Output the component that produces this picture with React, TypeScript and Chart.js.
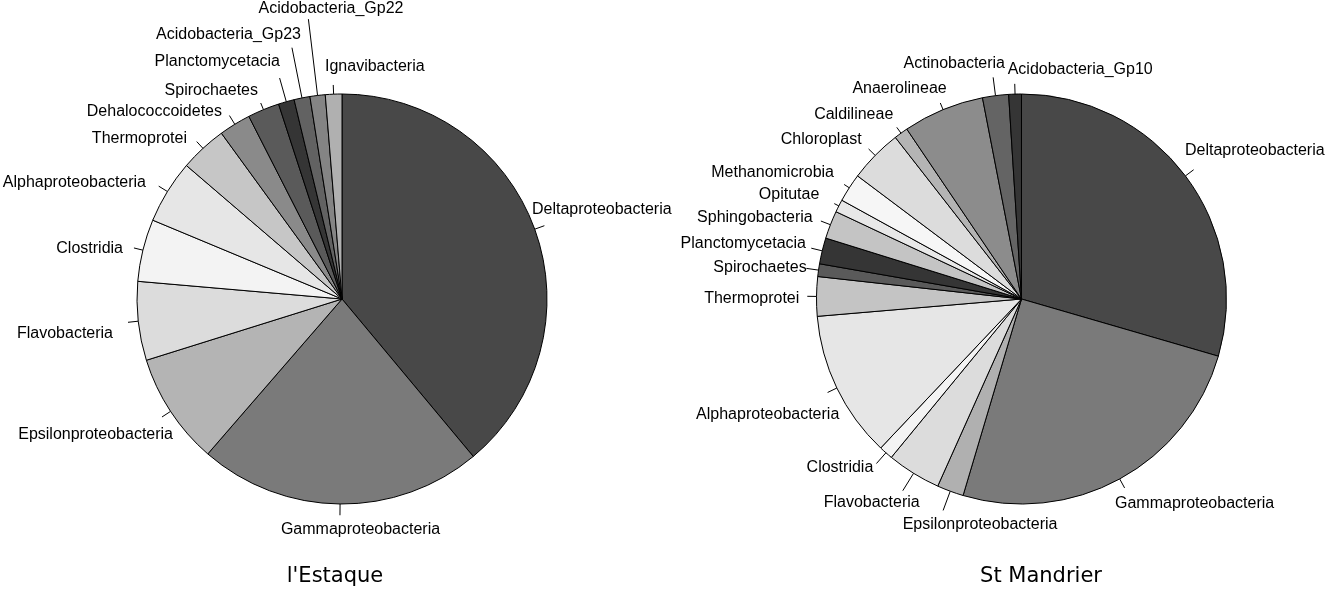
import React, { useEffect, useRef } from "react";
import { Chart, registerables } from "chart.js";

Chart.register(...registerables);

// ---------- Data: l'Estaque ----------
const estaqueTitle = "l'Estaque";
const estaqueCategories = [
  "Deltaproteobacteria",
  "Gammaproteobacteria",
  "Epsilonproteobacteria",
  "Flavobacteria",
  "Clostridia",
  "Alphaproteobacteria",
  "Thermoprotei",
  "Dehalococcoidetes",
  "Spirochaetes",
  "Planctomycetacia",
  "Acidobacteria_Gp23",
  "Acidobacteria_Gp22",
  "Ignavibacteria",
];
const estaqueValues = [38.9, 22.4, 8.8, 6.2, 4.9, 5.0, 3.7, 2.5, 2.5, 1.25, 1.25, 1.2, 1.3];

// ---------- Data: St Mandrier ----------
const mandrierTitle = "St Mandrier";
const mandrierCategories = [
  "Deltaproteobacteria",
  "Gammaproteobacteria",
  "Epsilonproteobacteria",
  "Flavobacteria",
  "Clostridia",
  "Alphaproteobacteria",
  "Thermoprotei",
  "Spirochaetes",
  "Planctomycetacia",
  "Sphingobacteria",
  "Opitutae",
  "Methanomicrobia",
  "Chloroplast",
  "Caldilineae",
  "Anaerolineae",
  "Actinobacteria",
  "Acidobacteria_Gp10",
];
const mandrierValues = [29.5, 25.1, 2.1, 4.25, 1.1, 11.6, 3.1, 1.0, 2.05, 2.2, 1.0, 2.25, 4.2, 1.1, 6.4, 2.05, 1.0];

// ---------- Styles ----------
const estaqueColors = [
  "#484848", "#7a7a7a", "#b4b4b4", "#dcdcdc", "#f3f3f3", "#e6e6e6", "#c6c6c6",
  "#8a8a8a", "#5a5a5a", "#353535", "#626262", "#848484", "#b0b0b0",
];
const mandrierColors = [
  "#484848", "#7a7a7a", "#b0b0b0", "#dcdcdc", "#f3f3f3", "#e6e6e6", "#c4c4c4",
  "#5a5a5a", "#353535", "#c4c4c4", "#e8e8e8", "#f6f6f6", "#dcdcdc", "#b4b4b4",
  "#8c8c8c", "#646464", "#353535",
];

// label layout: [dx, dy] of text anchor from pie centre, alignment, leader length factor
type LabelLayout = { dx: number; dy: number; align: CanvasTextAlign; ext: number };
const estaqueLabelLayout: LabelLayout[] = [
  { dx: 190, dy: -89.5, align: "left", ext: 1.05 },
  { dx: 18.5, dy: 230.5, align: "center", ext: 1.055 },
  { dx: -169, dy: 135.5, align: "right", ext: 1.05 },
  { dx: -229, dy: 34.5, align: "right", ext: 1.05 },
  { dx: -219, dy: -50.5, align: "right", ext: 1.045 },
  { dx: -196, dy: -116.5, align: "right", ext: 1.05 },
  { dx: -155, dy: -160.5, align: "right", ext: 1.045 },
  { dx: -120, dy: -187.8, align: "right", ext: 1.05 },
  { dx: -84, dy: -208.8, align: "right", ext: 1.035 },
  { dx: -62, dy: -237.8, align: "right", ext: 1.12 },
  { dx: -41, dy: -264.5, align: "right", ext: 1.25 },
  { dx: -11, dy: -290.2, align: "center", ext: 1.375 },
  { dx: -17, dy: -232.8, align: "left", ext: 1.045 },
];
const mandrierLabelLayout: LabelLayout[] = [
  { dx: 163.5, dy: -148.3, align: "left", ext: 1.05 },
  { dx: 93.5, dy: 205, align: "left", ext: 1.05 },
  { dx: -118.8, dy: 225.3, align: "left", ext: 1.1 },
  { dx: -149.8, dy: 203.7, align: "center", ext: 1.1 },
  { dx: -148.2, dy: 168.3, align: "right", ext: 1.07 },
  { dx: -182.2, dy: 115.3, align: "right", ext: 1.05 },
  { dx: -222.2, dy: -0.7, align: "right", ext: 1.045 },
  { dx: -214.8, dy: -31.7, align: "right", ext: 1.06 },
  { dx: -215.5, dy: -55.7, align: "right", ext: 1.055 },
  { dx: -208.8, dy: -81.7, align: "right", ext: 1.05 },
  { dx: -202.2, dy: -104, align: "right", ext: 1.025 },
  { dx: -187.5, dy: -126.3, align: "right", ext: 1.03 },
  { dx: -159.8, dy: -159.7, align: "right", ext: 1.045 },
  { dx: -128.2, dy: -184, align: "right", ext: 1.035 },
  { dx: -74.8, dy: -210.7, align: "right", ext: 1.035 },
  { dx: -16.5, dy: -235, align: "right", ext: 1.09 },
  { dx: -13.8, dy: -229, align: "left", ext: 1.05 },
];

const W = 1328;
const H = 589;

type PieSpec = {
  title: string;
  titleDx: number;
  categories: string[];
  values: number[];
  colors: string[];
  layout: LabelLayout[];
  padLeft: number;
  padRight: number;
};

const labelPlugin = {
  id: "pieLabels",
  afterDatasetsDraw(chart: any, _args: any, opts: any) {
    const ctx = chart.ctx as CanvasRenderingContext2D;
    const meta = chart.getDatasetMeta(0);
    const layout: LabelLayout[] = opts.layout;
    const labels: string[] = chart.data.labels;
    ctx.save();
    ctx.font = '16px "Liberation Sans", Arial, sans-serif';
    ctx.fillStyle = "#000";
    ctx.strokeStyle = "#000";
    ctx.lineWidth = 1;
    ctx.textBaseline = "middle";
    let cx = 0;
    let cy = 0;
    meta.data.forEach((arc: any, i: number) => {
      const { x, y, startAngle, endAngle, outerRadius } = arc.getProps(
        ["x", "y", "startAngle", "endAngle", "outerRadius"],
        true
      );
      cx = x;
      cy = y;
      const mid = (startAngle + endAngle) / 2;
      const l = layout[i];
      const r0 = outerRadius;
      const r1 = outerRadius * l.ext;
      ctx.beginPath();
      ctx.moveTo(x + Math.cos(mid) * r0, y + Math.sin(mid) * r0);
      ctx.lineTo(x + Math.cos(mid) * r1, y + Math.sin(mid) * r1);
      ctx.stroke();
      ctx.textAlign = l.align;
      ctx.fillText(labels[i], x + l.dx, y + l.dy);
    });
    ctx.font = '21px "DejaVu Sans", sans-serif';
    ctx.textAlign = "center";
    ctx.fillText(opts.title, cx + opts.titleDx, 577);
    ctx.restore();
  },
};

function PieCanvas({ spec }: { spec: PieSpec }) {
  const ref = useRef<HTMLCanvasElement | null>(null);
  useEffect(() => {
    if (!ref.current) return;
    const chart = new Chart(ref.current, {
      type: "pie",
      data: {
        labels: spec.categories,
        datasets: [
          {
            data: spec.values,
            backgroundColor: spec.colors,
            borderColor: "#000",
            borderWidth: 1,
            radius: 205,
          } as any,
        ],
      },
      options: {
        responsive: false,
        animation: false,
        events: [],
        layout: { padding: { left: spec.padLeft, right: spec.padRight, top: 9, bottom: 0 } },
        plugins: {
          legend: { display: false },
          tooltip: { enabled: false },
          title: { display: false },
          pieLabels: { layout: spec.layout, title: spec.title, titleDx: spec.titleDx },
        } as any,
      },
      plugins: [labelPlugin],
    });
    return () => chart.destroy();
  }, [spec]);
  return (
    <canvas
      ref={ref}
      width={W}
      height={H}
      style={{ position: "absolute", left: 0, top: 0, width: W, height: H }}
    />
  );
}

const specs: PieSpec[] = [
  {
    title: estaqueTitle,
    titleDx: -7,
    categories: estaqueCategories,
    values: estaqueValues,
    colors: estaqueColors,
    layout: estaqueLabelLayout,
    padLeft: 0,
    padRight: 644,
  },
  {
    title: mandrierTitle,
    titleDx: 19.5,
    categories: mandrierCategories,
    values: mandrierValues,
    colors: mandrierColors,
    layout: mandrierLabelLayout,
    padLeft: 715,
    padRight: 0,
  },
];

export default function App() {
  return (
    <div
      style={{
        position: "absolute",
        left: 0,
        top: 0,
        width: 1328,
        height: 589,
        background: "#fff",
        overflow: "hidden",
      }}
    >
      {specs.map((s, i) => (
        <PieCanvas key={i} spec={s} />
      ))}
    </div>
  );
}
